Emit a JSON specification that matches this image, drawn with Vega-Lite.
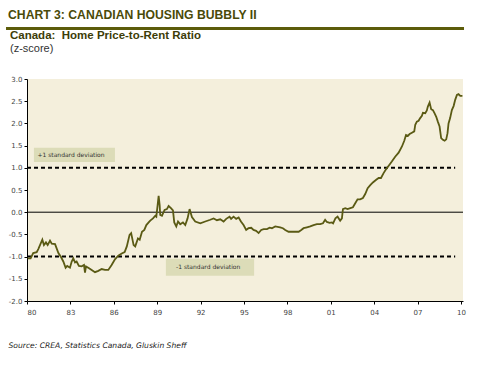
{
  "$schema": "https://vega.github.io/schema/vega-lite/v6.json",
  "background": "white",
  "padding": {"left": 6, "top": 8, "right": 12, "bottom": 8},
  "spacing": 49,
  "bounds": "flush",
  "config": {
    "font": "Liberation Sans",
    "title": {"anchor": "start"}
  },
  "datasets": {
    "series": [
      {"year": 1980.05, "z": -1.04}, {"year": 1980.25, "z": -1.04}, {"year": 1980.43, "z": -0.92}, {"year": 1980.67, "z": -0.9},
      {"year": 1980.78, "z": -0.83}, {"year": 1981.06, "z": -0.62}, {"year": 1981.17, "z": -0.74}, {"year": 1981.31, "z": -0.68},
      {"year": 1981.43, "z": -0.74}, {"year": 1981.59, "z": -0.64}, {"year": 1981.71, "z": -0.71}, {"year": 1981.94, "z": -0.72},
      {"year": 1982.17, "z": -0.92}, {"year": 1982.35, "z": -1.01}, {"year": 1982.51, "z": -1.11}, {"year": 1982.67, "z": -1.25},
      {"year": 1982.78, "z": -1.21}, {"year": 1982.97, "z": -1.25}, {"year": 1983.09, "z": -1.11}, {"year": 1983.2, "z": -1.04},
      {"year": 1983.32, "z": -1.13}, {"year": 1983.43, "z": -1.11}, {"year": 1983.59, "z": -1.21}, {"year": 1983.78, "z": -1.22},
      {"year": 1983.94, "z": -1.19}, {"year": 1984.01, "z": -1.36}, {"year": 1984.08, "z": -1.22}, {"year": 1984.29, "z": -1.26},
      {"year": 1984.47, "z": -1.3}, {"year": 1984.7, "z": -1.35}, {"year": 1984.93, "z": -1.32}, {"year": 1985.16, "z": -1.28},
      {"year": 1985.39, "z": -1.3}, {"year": 1985.62, "z": -1.3}, {"year": 1985.85, "z": -1.19}, {"year": 1986.08, "z": -1.06},
      {"year": 1986.31, "z": -0.98}, {"year": 1986.55, "z": -0.93}, {"year": 1986.75, "z": -0.9}, {"year": 1986.9, "z": -0.77},
      {"year": 1987.09, "z": -0.51}, {"year": 1987.2, "z": -0.47}, {"year": 1987.37, "z": -0.74}, {"year": 1987.48, "z": -0.77},
      {"year": 1987.67, "z": -0.59}, {"year": 1987.79, "z": -0.62}, {"year": 1987.95, "z": -0.44}, {"year": 1988.11, "z": -0.4},
      {"year": 1988.25, "z": -0.29}, {"year": 1988.41, "z": -0.23}, {"year": 1988.52, "z": -0.19}, {"year": 1988.71, "z": -0.14},
      {"year": 1988.87, "z": -0.08}, {"year": 1988.94, "z": -0.1}, {"year": 1989.03, "z": 0.16}, {"year": 1989.1, "z": 0.37},
      {"year": 1989.17, "z": 0.16}, {"year": 1989.21, "z": -0.06}, {"year": 1989.33, "z": -0.08}, {"year": 1989.51, "z": 0.05},
      {"year": 1989.67, "z": 0.07}, {"year": 1989.79, "z": 0.14}, {"year": 1989.95, "z": 0.09}, {"year": 1990.09, "z": 0.04},
      {"year": 1990.18, "z": -0.23}, {"year": 1990.32, "z": -0.32}, {"year": 1990.44, "z": -0.21}, {"year": 1990.59, "z": -0.27},
      {"year": 1990.78, "z": -0.23}, {"year": 1990.94, "z": -0.29}, {"year": 1991.1, "z": -0.14}, {"year": 1991.24, "z": 0.07},
      {"year": 1991.4, "z": -0.11}, {"year": 1991.63, "z": -0.21}, {"year": 1991.98, "z": -0.25}, {"year": 1992.32, "z": -0.21},
      {"year": 1992.67, "z": -0.17}, {"year": 1992.9, "z": -0.14}, {"year": 1993.13, "z": -0.18}, {"year": 1993.36, "z": -0.16},
      {"year": 1993.59, "z": -0.21}, {"year": 1993.77, "z": -0.15}, {"year": 1994.0, "z": -0.1}, {"year": 1994.11, "z": -0.15},
      {"year": 1994.28, "z": -0.1}, {"year": 1994.46, "z": -0.15}, {"year": 1994.63, "z": -0.12}, {"year": 1994.79, "z": -0.21},
      {"year": 1994.97, "z": -0.29}, {"year": 1995.15, "z": -0.4}, {"year": 1995.31, "z": -0.36}, {"year": 1995.5, "z": -0.35},
      {"year": 1995.66, "z": -0.4}, {"year": 1995.84, "z": -0.42}, {"year": 1996.01, "z": -0.47}, {"year": 1996.19, "z": -0.4},
      {"year": 1996.36, "z": -0.38}, {"year": 1996.59, "z": -0.38}, {"year": 1996.77, "z": -0.35}, {"year": 1996.93, "z": -0.36},
      {"year": 1997.16, "z": -0.32}, {"year": 1997.5, "z": -0.34}, {"year": 1997.69, "z": -0.36}, {"year": 1997.85, "z": -0.4},
      {"year": 1998.08, "z": -0.44}, {"year": 1998.31, "z": -0.44}, {"year": 1998.54, "z": -0.44}, {"year": 1998.78, "z": -0.44},
      {"year": 1998.96, "z": -0.4}, {"year": 1999.12, "z": -0.36}, {"year": 1999.35, "z": -0.34}, {"year": 1999.58, "z": -0.32},
      {"year": 1999.81, "z": -0.29}, {"year": 2000.04, "z": -0.27}, {"year": 2000.27, "z": -0.27}, {"year": 2000.46, "z": -0.25},
      {"year": 2000.61, "z": -0.17}, {"year": 2000.73, "z": -0.22}, {"year": 2000.92, "z": -0.24}, {"year": 2001.08, "z": -0.23},
      {"year": 2001.16, "z": -0.25}, {"year": 2001.32, "z": -0.14}, {"year": 2001.47, "z": -0.1}, {"year": 2001.65, "z": -0.19},
      {"year": 2001.77, "z": -0.14}, {"year": 2001.84, "z": 0.07}, {"year": 2002.0, "z": 0.09}, {"year": 2002.16, "z": 0.07},
      {"year": 2002.35, "z": 0.09}, {"year": 2002.53, "z": 0.11}, {"year": 2002.69, "z": 0.2}, {"year": 2002.85, "z": 0.29},
      {"year": 2003.03, "z": 0.29}, {"year": 2003.22, "z": 0.32}, {"year": 2003.38, "z": 0.41}, {"year": 2003.55, "z": 0.54},
      {"year": 2003.73, "z": 0.61}, {"year": 2003.91, "z": 0.67}, {"year": 2004.14, "z": 0.73}, {"year": 2004.31, "z": 0.77},
      {"year": 2004.47, "z": 0.77}, {"year": 2004.65, "z": 0.88}, {"year": 2004.83, "z": 0.97}, {"year": 2004.99, "z": 1.04},
      {"year": 2005.22, "z": 1.14}, {"year": 2005.45, "z": 1.25}, {"year": 2005.69, "z": 1.34}, {"year": 2005.92, "z": 1.48},
      {"year": 2006.08, "z": 1.61}, {"year": 2006.2, "z": 1.74}, {"year": 2006.33, "z": 1.72}, {"year": 2006.45, "z": 1.76},
      {"year": 2006.61, "z": 1.79}, {"year": 2006.77, "z": 1.82}, {"year": 2006.84, "z": 1.97}, {"year": 2006.95, "z": 2.04},
      {"year": 2007.07, "z": 2.06}, {"year": 2007.18, "z": 2.12}, {"year": 2007.3, "z": 2.17}, {"year": 2007.37, "z": 2.24},
      {"year": 2007.53, "z": 2.23}, {"year": 2007.64, "z": 2.29}, {"year": 2007.71, "z": 2.38}, {"year": 2007.83, "z": 2.47},
      {"year": 2007.94, "z": 2.32}, {"year": 2008.06, "z": 2.3}, {"year": 2008.17, "z": 2.23}, {"year": 2008.29, "z": 2.15},
      {"year": 2008.4, "z": 2.04}, {"year": 2008.52, "z": 1.93}, {"year": 2008.63, "z": 1.67}, {"year": 2008.75, "z": 1.63},
      {"year": 2008.87, "z": 1.61}, {"year": 2008.98, "z": 1.64}, {"year": 2009.07, "z": 1.78}, {"year": 2009.14, "z": 2.0},
      {"year": 2009.25, "z": 2.12}, {"year": 2009.37, "z": 2.3}, {"year": 2009.49, "z": 2.39}, {"year": 2009.6, "z": 2.53},
      {"year": 2009.72, "z": 2.64}, {"year": 2009.83, "z": 2.66}, {"year": 2009.95, "z": 2.62}, {"year": 2010.1, "z": 2.62}
    ],
    "bands": [
      {"level": 1, "start": 1980, "end": 2009.6},
      {"level": -1, "start": 1980, "end": 2009.6}
    ],
    "labels": [
      {"label": "+1 standard deviation", "x0": 1980.48, "x1": 1986.08, "y0": 1.13, "y1": 1.45, "tx": 1980.72, "ty": 1.29},
      {"label": "-1 standard deviation", "x0": 1989.6, "x1": 1995.7, "y0": -1.43, "y1": -1.05, "tx": 1990.3, "ty": -1.24}
    ]
  },
  "vconcat": [
    {
      "width": 436,
      "height": 3,
      "title": {
        "text": "CHART 3: CANADIAN HOUSING BUBBLY II",
        "font": "Liberation Sans",
        "fontSize": 12.2,
        "fontWeight": "bold",
        "color": "#4a4a08",
        "anchor": "start",
        "frame": "bounds",
        "dx": 2,
        "offset": 6
      },
      "view": {"stroke": null},
      "data": {"values": [{"part": "separator"}]},
      "mark": {"type": "rect", "color": "#5c5c0a", "clip": false},
      "encoding": {
        "x": {"datum": 1978.55, "type": "quantitative", "scale": {"domain": [1980, 2010.14], "nice": false, "zero": false}, "axis": null},
        "x2": {"datum": 2010.21}
      }
    },
    {
      "width": 436,
      "height": 222,
      "title": {
        "text": "Canada:\u00a0 Home Price-to-Rent Ratio",
        "subtitle": "(z-score)",
        "font": "Liberation Sans",
        "fontSize": 11.5,
        "fontWeight": "bold",
        "color": "#3d3d08",
        "subtitleFont": "Liberation Sans",
        "subtitleFontSize": 11,
        "subtitleColor": "#333333",
        "subtitlePadding": 2,
        "anchor": "start",
        "frame": "bounds",
        "dx": 2,
        "offset": 21
      },
      "view": {"fill": "#f4efdc", "stroke": null},
      "encoding": {
        "x": {
          "type": "quantitative",
          "scale": {"domain": [1980, 2010.14], "nice": false, "zero": false},
          "axis": {
            "values": [1980, 1983, 1986, 1989, 1992, 1995, 1998, 2001, 2004, 2007, 2010],
            "format": "d",
            "labelExpr": "slice(datum.label, 2)",
            "grid": false,
            "domainColor": "#000000",
            "tickColor": "#000000",
            "tickSize": 3,
            "labelFont": "DejaVu Sans",
            "labelFontSize": 7,
            "labelColor": "#444444",
            "labelPadding": 4,
            "title": "Source: CREA, Statistics Canada, Gluskin Sheff",
            "titleFont": "DejaVu Sans",
            "titleFontSize": 7.6,
            "titleFontStyle": "italic",
            "titleFontWeight": "normal",
            "titleColor": "#222222",
            "titleAnchor": "start",
            "titleAlign": "left",
            "titleBaseline": "alphabetic",
            "titleX": -19,
            "titleY": 46
          }
        },
        "y": {
          "type": "quantitative",
          "scale": {"domain": [-2, 3], "nice": false, "zero": false},
          "axis": {
            "values": [-2, -1.5, -1, -0.5, 0, 0.5, 1, 1.5, 2, 2.5, 3],
            "format": ".1f",
            "labelExpr": "replace(datum.label, '\u2212', '-')",
            "grid": false,
            "domainColor": "#000000",
            "tickColor": "#000000",
            "tickSize": 3,
            "labelFont": "DejaVu Sans",
            "labelFontSize": 7,
            "labelColor": "#444444",
            "labelPadding": 2,
            "minExtent": 18,
            "maxExtent": 18,
            "title": null
          }
        }
      },
      "layer": [
        {
          "data": {"name": "labels"},
          "mark": {"type": "rect", "color": "#dcdcb8"},
          "encoding": {
            "x": {"field": "x0"},
            "x2": {"field": "x1"},
            "y": {"field": "y0"},
            "y2": {"field": "y1"}
          }
        },
        {
          "data": {"name": "labels"},
          "mark": {"type": "text", "font": "DejaVu Sans", "fontSize": 6, "color": "#333333", "baseline": "middle", "align": "left"},
          "encoding": {
            "x": {"field": "tx"},
            "y": {"field": "ty"},
            "text": {"field": "label"}
          }
        },
        {
          "data": {"values": [{"zero": 0}]},
          "mark": {"type": "rule", "color": "#000000", "strokeWidth": 1},
          "encoding": {"y": {"field": "zero"}}
        },
        {
          "data": {"name": "bands"},
          "mark": {"type": "rule", "color": "#000000", "strokeWidth": 2, "strokeDash": [4, 3]},
          "encoding": {
            "x": {"field": "start"},
            "x2": {"field": "end"},
            "y": {"field": "level"}
          }
        },
        {
          "data": {"name": "series"},
          "mark": {"type": "line", "color": "#5a5a14", "strokeWidth": 1.8},
          "encoding": {
            "x": {"field": "year"},
            "y": {"field": "z"}
          }
        }
      ]
    }
  ]
}
